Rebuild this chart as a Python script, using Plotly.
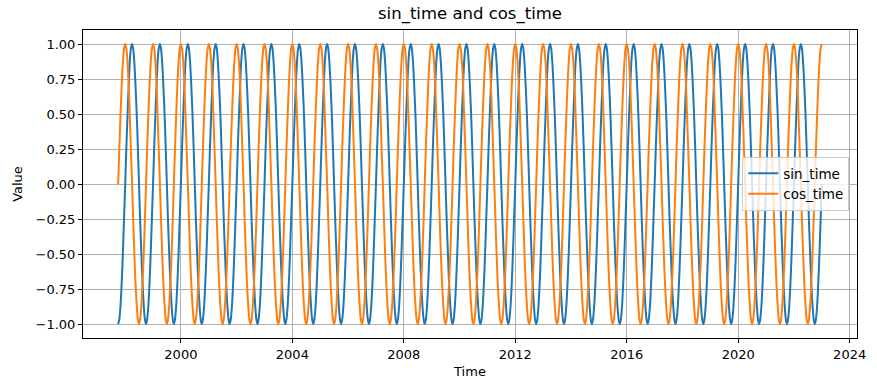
import pandas as pd
import plotly.graph_objects as go

# Half-monthly observations (1st and 16th of each month), Oct 1997 .. Jan 2023
start_date = "1997-10-01"
end_date = "2023-01-01"
# values read per half-month of the calendar year (Jan 1, Jan 16, Feb 1, ... Dec 16)
sin_by_halfmonth = [0.0, 0.259, 0.5, 0.707, 0.866, 0.966, 1.0, 0.966, 0.866, 0.707, 0.5, 0.259,
                    0.0, -0.259, -0.5, -0.707, -0.866, -0.966, -1.0, -0.966, -0.866, -0.707, -0.5, -0.259]
cos_by_halfmonth = [1.0, 0.966, 0.866, 0.707, 0.5, 0.259, 0.0, -0.259, -0.5, -0.707, -0.866, -0.966,
                    -1.0, -0.966, -0.866, -0.707, -0.5, -0.259, 0.0, 0.259, 0.5, 0.707, 0.866, 0.966]
x_tick_years = [2000, 2004, 2008, 2012, 2016, 2020, 2024]
y_ticks = [-1.0, -0.75, -0.5, -0.25, 0.0, 0.25, 0.5, 0.75, 1.0]

dates = [d for d in pd.date_range(start_date, end_date, freq="D") if d.day in (1, 16)]
idx = [(d.month - 1) * 2 + (0 if d.day == 1 else 1) for d in dates]
sin_time = [sin_by_halfmonth[i] for i in idx]
cos_time = [cos_by_halfmonth[i] for i in idx]

FONT = "DejaVu Sans"
fig = go.Figure()
fig.add_trace(go.Scatter(x=dates, y=sin_time, mode="lines", name="sin_time",
                         line=dict(color="#1f77b4", width=2, shape="spline", smoothing=0.6)))
fig.add_trace(go.Scatter(x=dates, y=cos_time, mode="lines", name="cos_time",
                         line=dict(color="#ff7f0e", width=2, shape="spline", smoothing=0.6)))

span = dates[-1] - dates[0]
xr = [dates[0] - span * 0.05, dates[-1] + span * 0.05]

def fmt(v):
    return f"{v:.2f}".replace("-", "\u2212")

fig.update_layout(
    width=877, height=391,
    margin=dict(l=83, r=20, t=30, b=53),
    paper_bgcolor="white", plot_bgcolor="white",
    font=dict(family=FONT, size=13, color="black"),
    title=dict(text="sin_time and cos_time", x=0.5, xref="paper", xanchor="center",
               yref="container", y=1 - 13 / 391, yanchor="middle",
               font=dict(size=16.5, family=FONT)),
    showlegend=True,
    legend=dict(x=0.99, y=0.5, xanchor="right", yanchor="middle",
                bgcolor="rgba(255,255,255,0.8)", bordercolor="#cccccc", borderwidth=1,
                font=dict(size=13.5, family=FONT), tracegroupgap=0, itemwidth=30),
)
fig.update_xaxes(
    range=xr, tickmode="array", automargin=False,
    tickvals=[pd.Timestamp(f"{y}-01-01") for y in x_tick_years],
    ticktext=[str(y) for y in x_tick_years],
    showgrid=True, gridcolor="#b0b0b0", gridwidth=1,
    showline=True, linecolor="black", linewidth=1, mirror=True,
    ticks="outside", ticklen=4, tickcolor="black",
    title=dict(text="Time", standoff=6, font=dict(size=13)),
    zeroline=False,
)
fig.update_yaxes(
    range=[-1.1, 1.1], tickmode="array", tickvals=y_ticks, automargin=False,
    ticktext=[fmt(v) for v in y_ticks],
    showgrid=True, gridcolor="#b0b0b0", gridwidth=1,
    showline=True, linecolor="black", linewidth=1, mirror=True,
    ticks="outside", ticklen=4, tickcolor="black",
    title=dict(text="Value", standoff=10, font=dict(size=13)),
    zeroline=False,
)
fig.write_html("out.html", config={"displayModeBar": False},
               post_script="document.body.style.margin='0';")
